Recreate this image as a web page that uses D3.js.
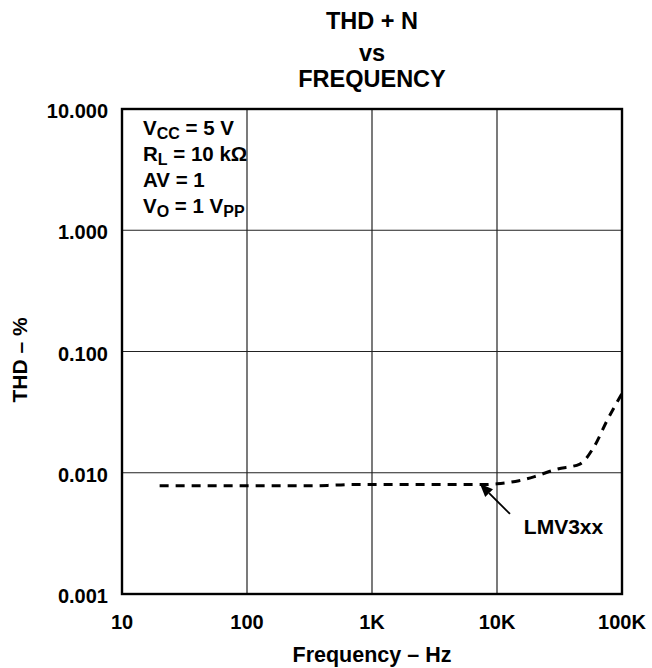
<!DOCTYPE html>
<html><head><meta charset="utf-8">
<script src="https://cdn.jsdelivr.net/npm/d3@7"></script>
<style>
html,body{margin:0;padding:0;background:#fff;}
text{font-family:"Liberation Sans",Arial,Helvetica,sans-serif;font-weight:bold;fill:#000;}
</style></head>
<body><svg id="c" width="652" height="668"></svg>
<script>
const titleLines = ["THD + N", "vs", "FREQUENCY"];
const xTicks = [10, 100, 1000, 10000, 100000];
const xTickLabels = ["10", "100", "1K", "10K", "100K"];
const yTicks = [0.001, 0.01, 0.1, 1, 10];
const yTickLabels = ["0.001", "0.010", "0.100", "1.000", "10.000"];
const freq = [20, 50, 100, 200, 300, 500, 700, 1000, 2000, 5000, 8000, 10000, 15000, 20000, 30000, 46000, 60000, 76000, 100000];
const thd  = [0.0078, 0.0078, 0.0078, 0.0078, 0.0078, 0.0079, 0.008, 0.008, 0.008, 0.008, 0.008, 0.0081, 0.0086, 0.0093, 0.0107, 0.0118, 0.0165, 0.027, 0.045];
const seriesName = "LMV3xx";
const arrowTip = [7300, 0.0081];
const arrowTail = [12700, 0.00457];
const labelPos = [16400, 0.0031];

const svg = d3.select("#c");
const L = 122, R = 622, T = 109, B = 594;
const x = d3.scaleLog().domain([10, 100000]).range([L, R]);
const y = d3.scaleLog().domain([0.001, 10]).range([B, T]);

// titles
const tb = [29, 61, 87], ts = [23.5, 23.5, 23.5];
svg.selectAll("text.title").data(titleLines).join("text")
  .attr("class","title").attr("x",(L+R)/2).attr("y",(d,i)=>tb[i])
  .attr("text-anchor","middle").style("font-size",(d,i)=>ts[i]+"px").text(d=>d);

// gridlines
const g = svg.append("g");
g.selectAll("line.vx").data(xTicks.slice(1,-1)).join("line")
  .attr("x1",d=>x(d)).attr("x2",d=>x(d)).attr("y1",T).attr("y2",B)
  .attr("stroke","#222").attr("stroke-width",1.2);
g.selectAll("line.hy").data(yTicks.slice(1,-1)).join("line")
  .attr("y1",d=>y(d)).attr("y2",d=>y(d)).attr("x1",L).attr("x2",R)
  .attr("stroke","#222").attr("stroke-width",1.2);
g.append("rect").attr("x",L).attr("y",T).attr("width",R-L).attr("height",B-T)
  .attr("fill","none").attr("stroke","#000").attr("stroke-width",2.4);

// tick labels
svg.selectAll("text.xt").data(xTicks).join("text").attr("class","xt")
  .attr("x",d=>x(d)).attr("y",629).attr("text-anchor","middle")
  .style("font-size","20px").text((d,i)=>xTickLabels[i]);
svg.selectAll("text.yt").data(yTicks).join("text").attr("class","yt")
  .attr("x",108).attr("y",d=>y(d)+9).attr("text-anchor","end")
  .style("font-size","20px").text((d,i)=>yTickLabels[i]);

// axis titles
svg.append("text").attr("x",(L+R)/2).attr("y",662).attr("text-anchor","middle")
  .style("font-size","21.5px").text("Frequency – Hz");
svg.append("text").attr("transform","translate(27,"+360+") rotate(-90)")
  .attr("text-anchor","middle").style("font-size","21px").text("THD – %");

// conditions box text
const cond = [
  [["V",""],["CC","sub"],[" = 5 V",""]],
  [["R",""],["L","sub"],[" = 10 kΩ",""]],
  [["AV = 1",""]],
  [["V",""],["O","sub"],[" = 1 V",""],["PP","sub"]]
];
const cb = [135, 161, 187, 213];
cond.forEach((line,i)=>{
  const t = svg.append("text").attr("x",143).attr("y",cb[i]).style("font-size","20.5px");
  let shifted = false;
  line.forEach(([s,k])=>{
    const ts = t.append("tspan").text(s);
    if(k==="sub"){ ts.style("font-size","16px").attr("dy", shifted?0:4); shifted=true; }
    else { ts.style("font-size","20.5px").attr("dy", shifted?-4:0); shifted=false; }
  });
});

// curve
const pts = freq.map((f,i)=>[f,thd[i]]);
svg.append("path").datum(pts)
  .attr("d", d3.line().x(d=>x(d[0])).y(d=>y(d[1])).curve(d3.curveMonotoneX))
  .attr("fill","none").attr("stroke","#000").attr("stroke-width",3)
  .attr("stroke-dasharray","9,7");

// arrow annotation
const tx = x(arrowTip[0]), ty = y(arrowTip[1]);
const sx = x(arrowTail[0]), sy = y(arrowTail[1]);
const ang = Math.atan2(ty-sy, tx-sx);
const hl = 13, hw = 5.5;
const bx = tx - hl*Math.cos(ang), by = ty - hl*Math.sin(ang);
svg.append("line").attr("x1",sx).attr("y1",sy).attr("x2",bx).attr("y2",by)
  .attr("stroke","#000").attr("stroke-width",1.8);
svg.append("path").attr("d",
  `M${tx},${ty} L${bx + hw*Math.sin(ang)},${by - hw*Math.cos(ang)} L${bx - hw*Math.sin(ang)},${by + hw*Math.cos(ang)} Z`)
  .attr("fill","#000");
svg.append("text").attr("x",x(labelPos[0])).attr("y",y(labelPos[1]))
  .style("font-size","21px").text(seriesName);
</script></body></html>
